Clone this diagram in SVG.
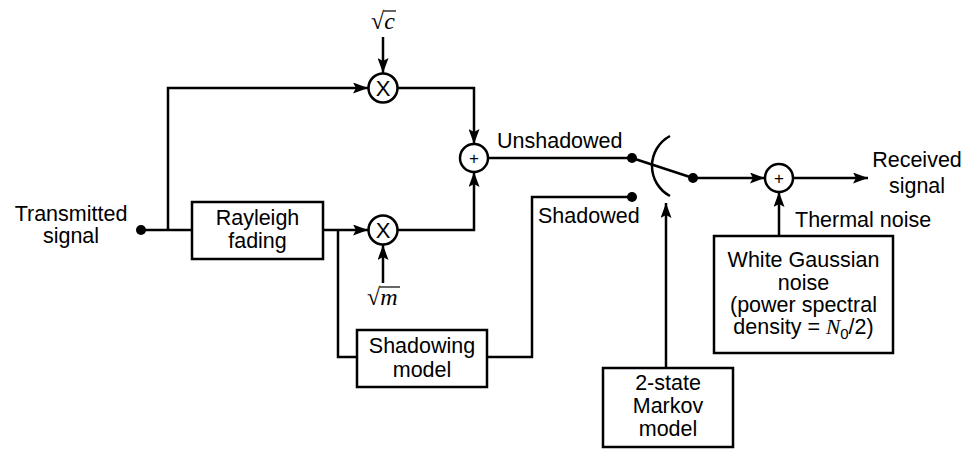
<svg xmlns="http://www.w3.org/2000/svg" width="964" height="449" viewBox="0 0 964 449">
<style>
.t{font-family:"Liberation Sans",Arial,sans-serif;font-size:21.5px;fill:#000}
.c{text-anchor:middle}
.m{font-family:"Liberation Serif","Times New Roman",serif;font-size:24px;fill:#000}
.box{fill:#fff;stroke:#000;stroke-width:2.5}
.cir{fill:#fff;stroke:#000;stroke-width:2.5}
.ln{fill:none;stroke:#000;stroke-width:2.5}
.arr{fill:none;stroke:#000;stroke-width:2.5;marker-end:url(#ah)}
</style>
<defs>
<marker id="ah" markerUnits="userSpaceOnUse" markerWidth="16" markerHeight="11" refX="15" refY="5.5" orient="auto">
<path d="M0,0 L15,5.5 L0,11 L3,5.5 z" fill="#000"/>
</marker>
</defs>
<g id="connectors">
<path class="ln" d="M141 230 H192"/>
<path class="arr" d="M168 230 V88 H368"/>
<path class="arr" d="M323 230 H368"/>
<path class="ln" d="M338 230 V357 H357"/>
<path class="arr" d="M397 230 H474 V172"/>
<path class="arr" d="M398 88 H474 V144"/>
<path class="arr" d="M383 37 V73"/>
<path class="arr" d="M383 283 V245"/>
<path class="ln" d="M488 158 H632"/>
<path class="ln" d="M487 357 H532 V197 H632"/>
<path class="ln" d="M632 158 L693 178"/>
<path class="ln" d="M670 136 A34 34 0 0 0 670 196"/>
<path class="arr" d="M666 368 V203"/>
<path class="arr" d="M693 178 H765"/>
<path class="arr" d="M779 236 V192"/>
<path class="arr" d="M793 178 H868"/>
<circle cx="141" cy="230" r="5"/>
<circle cx="632" cy="158" r="5"/>
<circle cx="632" cy="197" r="5"/>
<circle cx="693" cy="178" r="5"/>
</g>
<g id="transmitted">
<text class="t c" x="71" y="221">Transmitted</text>
<text class="t c" x="71" y="243">signal</text>
</g>
<g id="rayleigh">
<rect class="box" x="192" y="202" width="131" height="57"/>
<text class="t c" x="257.5" y="225">Rayleigh</text>
<text class="t c" x="257.5" y="248">fading</text>
</g>
<g id="mult-top">
<circle class="cir" cx="383" cy="88" r="14.5"/>
<text class="t c" x="383" y="96" style="font-size:22px">X</text>
</g>
<g id="sqrt-c">
<text class="m" x="371" y="29">√<tspan font-style="italic">c</tspan></text>
<line x1="384" y1="11" x2="396" y2="11" stroke="#000" stroke-width="1.2"/>
</g>
<g id="mult-bottom">
<circle class="cir" cx="383" cy="230" r="14.5"/>
<text class="t c" x="383" y="238" style="font-size:22px">X</text>
</g>
<g id="sqrt-m">
<text class="m" x="367" y="305">√<tspan font-style="italic">m</tspan></text>
<line x1="380" y1="287" x2="400" y2="287" stroke="#000" stroke-width="1.2"/>
</g>
<g id="adder1">
<circle class="cir" cx="474" cy="158" r="14"/>
<text class="t c" x="474" y="164" style="font-size:17px">+</text>
</g>
<g id="labels">
<text class="t" x="497" y="148">Unshadowed</text>
<text class="t" x="538" y="223">Shadowed</text>
</g>
<g id="shadowing">
<rect class="box" x="357" y="330" width="130" height="57"/>
<text class="t c" x="422" y="353">Shadowing</text>
<text class="t c" x="422" y="377">model</text>
</g>
<g id="markov">
<rect class="box" x="603" y="368" width="130" height="79"/>
<text class="t c" x="668" y="390">2-state</text>
<text class="t c" x="668" y="413">Markov</text>
<text class="t c" x="668" y="436">model</text>
</g>
<g id="adder2">
<circle class="cir" cx="779" cy="178" r="14"/>
<text class="t c" x="779" y="184" style="font-size:17px">+</text>
</g>
<g id="received">
<text class="t c" x="917" y="167">Received</text>
<text class="t c" x="917" y="193">signal</text>
</g>
<g id="thermal">
<text class="t" x="795" y="227">Thermal noise</text>
</g>
<g id="wgn">
<rect class="box" x="714" y="236" width="179" height="117"/>
<text class="t c" x="803.5" y="267">White Gaussian</text>
<text class="t c" x="803.5" y="290">noise</text>
<text class="t c" x="803.5" y="312">(power spectral</text>
<text class="t c" x="803.5" y="334">density = <tspan font-family="'Liberation Serif',serif" font-style="italic">N</tspan><tspan font-size="15px" dy="5">0</tspan><tspan dy="-5">/2)</tspan></text>
</g>
</svg>
